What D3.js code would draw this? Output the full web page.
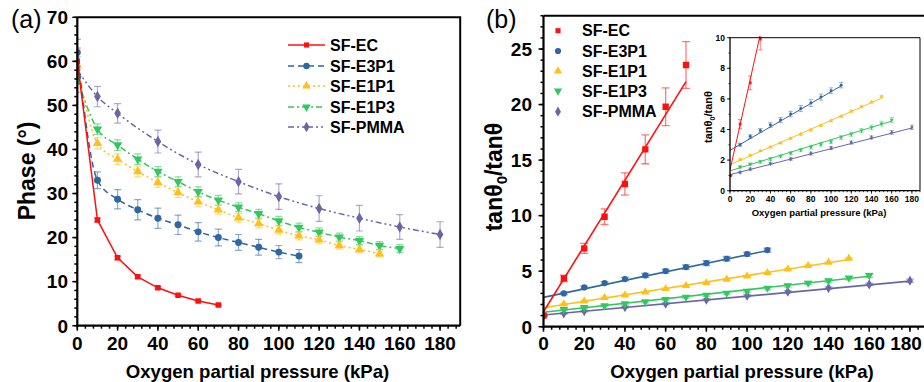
<!DOCTYPE html>
<html><head><meta charset="utf-8">
<script src="https://cdn.jsdelivr.net/npm/d3@7/dist/d3.min.js"></script>
<style>
html,body{margin:0;padding:0;background:#fff;}
svg{display:block;font-family:"Liberation Sans",Arial,sans-serif;}
</style></head>
<body>
<svg id="chart" width="924" height="382"></svg>
<script>
// ---------- DATA ----------
const seriesNames = ["SF-EC","SF-E3P1","SF-E1P1","SF-E1P3","SF-PMMA"];
const seriesColors = ["#ff1010","#2f66a3","#ffc01a","#33c75e","#6a66a6"];

const xEC    = [0,10,20,30,40,50,60,70];
const xE3P1  = [0,10,20,30,40,50,60,70,80,90,100,110];
const xE1P1  = [0,10,20,30,40,50,60,70,80,90,100,110,120,130,140,150];
const xE1P3  = [0,10,20,30,40,50,60,70,80,90,100,110,120,130,140,150,160];
const xPMMA  = [0,10,20,40,60,80,100,120,140,160,180];

// Panel (a): phase (deg)
const phaseEC    = [60,24.0,15.4,11.1,8.6,6.9,5.6,4.7];
const phaseEC_err= [3,0.4,0.4,0.3,0.3,0.2,0.2,0.2];
const phaseE3P1  = [62,33.0,28.7,26.3,24.4,22.9,21.3,20.0,18.9,17.8,16.7,15.8];
const phaseE3P1_err=[3,1.9,2.2,2.3,2.3,2.2,2.1,1.9,1.8,1.8,1.5,1.5];
const phaseE1P1  = [59,41.4,37.8,35.0,32.5,30.2,28.1,26.3,24.5,23.2,21.7,20.4,19.5,18.2,17.3,16.3];
const phaseE1P1_err=[3,1.3,1.2,1.2,1.1,1.1,1.1,1.0,1.0,1.0,0.9,0.9,0.9,0.8,0.8,0.7];
const phaseE1P3  = [56,44.6,41.0,37.8,35.0,32.7,30.4,28.5,26.9,25.4,23.8,22.3,21.2,20.1,19.3,18.2,17.5];
const phaseE1P3_err=[3,1.2,1.2,1.2,1.1,1.1,1.1,1.1,1.0,1.0,1.0,1.0,1.0,0.9,0.9,0.9,0.9];
const phasePMMA  = [58,52.0,48.2,41.8,36.6,32.7,29.3,26.6,24.4,22.4,20.7];
const phasePMMA_err=[3,2.3,2.2,2.6,2.8,2.8,2.9,2.9,2.9,2.8,2.9];

// Panel (b): tan(theta0)/tan(theta)
const ratioEC    = [1,4.35,7.05,9.9,12.85,15.97,19.8,23.56];
const ratioEC_err= [0.05,0.3,0.45,0.7,1.0,1.3,1.7,2.1];
const ratioE3P1  = [1,3.0,3.54,3.93,4.29,4.62,5.01,5.37,5.73,6.12,6.54,6.9];
const ratioE3P1_err=[0.05,0.1,0.12,0.13,0.15,0.17,0.18,0.2,0.22,0.2,0.18,0.18];
const ratioE1P1  = [1,2.04,2.31,2.61,2.85,3.12,3.42,3.69,3.96,4.26,4.56,4.86,5.19,5.49,5.79,6.15];
const ratioE1P1_err=[0.03,0.05,0.05,0.05,0.05,0.05,0.06,0.06,0.06,0.06,0.06,0.06,0.06,0.07,0.07,0.07];
const ratioE1P3  = [1,1.56,1.74,1.89,2.07,2.25,2.46,2.67,2.85,3.03,3.21,3.48,3.69,3.93,4.14,4.38,4.62];
const ratioE1P3_err=[0.03,0.08,0.08,0.09,0.1,0.1,0.1,0.1,0.12,0.12,0.12,0.13,0.13,0.14,0.15,0.16,0.17];
const ratioPMMA  = [1,1.2,1.41,1.77,2.07,2.43,2.79,3.15,3.48,3.81,4.14];
const ratioPMMA_err=[0.03,0.06,0.07,0.08,0.08,0.09,0.1,0.1,0.1,0.12,0.14];

// Linear fits (Stern-Volmer)
const fitIntercept = [1.35,2.64,1.70,1.30,1.05];
const fitSlope     = [0.296,0.0383,0.029,0.0203,0.01694];
const fitXmax      = [70,110,150,160,180];

// Tick labels
const xTicks = [0,20,40,60,80,100,120,140,160,180];
const phaseTicks = [0,10,20,30,40,50,60,70];
const ratioTicks = [0,5,10,15,20,25];
const insetYTicks = [0,2,4,6,8,10];

// ---------- BUILD ----------
const xs = [xEC,xE3P1,xE1P1,xE1P3,xPMMA];
const phases = [phaseEC,phaseE3P1,phaseE1P1,phaseE1P3,phasePMMA];
const phaseErrs = [phaseEC_err,phaseE3P1_err,phaseE1P1_err,phaseE1P3_err,phasePMMA_err];
const ratios = [ratioEC,ratioE3P1,ratioE1P1,ratioE1P3,ratioPMMA];
const ratioErrs = [ratioEC_err,ratioE3P1_err,ratioE1P1_err,ratioE1P3_err,ratioPMMA_err];
const dashes = [null,"6,4","2,3","6,3,2,3","6,3,2,3,2,3"];
const symbols = [d3.symbolSquare,d3.symbolCircle,d3.symbolTriangle,d3.symbolTriangle,d3.symbolDiamond];
const rotations = [0,0,0,180,0];

const svg = d3.select("#chart");
const FONT = "Liberation Sans, Arial, sans-serif";

function sym(i,size){ return d3.symbol().type(symbols[i]).size(size)(); }

function drawAxes(g, x, y, opts){
  const [x0,x1] = x.range(); const [y0,y1] = y.range();
  const xmin = d3.range(0, x.domain()[1]+0.001, opts.xMinor);
  g.selectAll(null).data(xmin).enter().append("line")
    .attr("x1",d=>x(d)).attr("x2",d=>x(d)).attr("y1",y0).attr("y2",y0+opts.minorLen)
    .attr("stroke","#000").attr("stroke-width",opts.tickW);
  g.selectAll(null).data(opts.xTicks).enter().append("line")
    .attr("x1",d=>x(d)).attr("x2",d=>x(d)).attr("y1",y0).attr("y2",y0+opts.majorLen)
    .attr("stroke","#000").attr("stroke-width",opts.tickW);
  const ymin = d3.range(0, y.domain()[1]+0.001, opts.yMinor);
  g.selectAll(null).data(ymin).enter().append("line")
    .attr("y1",d=>y(d)).attr("y2",d=>y(d)).attr("x1",x0).attr("x2",x0-opts.minorLen)
    .attr("stroke","#000").attr("stroke-width",opts.tickW);
  g.selectAll(null).data(opts.yTicks).enter().append("line")
    .attr("y1",d=>y(d)).attr("y2",d=>y(d)).attr("x1",x0).attr("x2",x0-opts.majorLen)
    .attr("stroke","#000").attr("stroke-width",opts.tickW);
  g.append("path").attr("d",`M${x0},${y1}L${x1},${y1}` + (opts.rightBorder?`L${x1},${y0}`:""))
    .attr("fill","none").attr("stroke","#000").attr("stroke-width",opts.frameW);
  g.append("line").attr("x1",x0).attr("x2",x1).attr("y1",y0).attr("y2",y0)
    .attr("stroke","#000").attr("stroke-width",opts.axisW);
  g.append("line").attr("x1",x0).attr("x2",x0).attr("y1",y0+opts.axisW/2).attr("y2",y1)
    .attr("stroke","#000").attr("stroke-width",opts.axisW);
  g.selectAll(null).data(opts.xTicks).enter().append("text")
    .attr("x",d=>Math.min(x(d), opts.maxLabelX || 1e9)).attr("y",opts.xLabelY).attr("text-anchor","middle")
    .attr("font-size",opts.fs).attr("font-weight",opts.fw).attr("font-family",FONT).text(d=>d);
  g.selectAll(null).data(opts.yTicks).enter().append("text")
    .attr("x",opts.yLabelX).attr("y",d=>y(d)).attr("dy","0.36em").attr("text-anchor","end")
    .attr("font-size",opts.fs).attr("font-weight",opts.fw).attr("font-family",FONT).text(d=>d);
}

function errorBars(g, x, y, xv, yv, ev, color, cap, w){
  const gg = g.append("g").attr("stroke",color).attr("stroke-opacity",0.55).attr("stroke-width",w).attr("fill","none");
  xv.forEach((xx,k)=>{
    const yt = y(yv[k]+ev[k]), yb = y(yv[k]-ev[k]), cx = x(xx);
    gg.append("line").attr("x1",cx).attr("x2",cx).attr("y1",yt).attr("y2",yb);
    gg.append("line").attr("x1",cx-cap).attr("x2",cx+cap).attr("y1",yt).attr("y2",yt);
    gg.append("line").attr("x1",cx-cap).attr("x2",cx+cap).attr("y1",yb).attr("y2",yb);
  });
}

// ===== Panel (a) =====
{
  const x = d3.scaleLinear().domain([0,190]).range([77.3,460.2]);
  const y = d3.scaleLinear().domain([0,70]).range([325.7,17.3]);
  const g = svg.append("g");
  svg.append("defs").append("clipPath").attr("id","clipA").append("rect")
    .attr("x",77.3).attr("y",17.3).attr("width",383).attr("height",308.4);
  const pg = g.append("g").attr("clip-path","url(#clipA)");
  for(let i=4;i>=0;i--){
    errorBars(pg,x,y,xs[i],phases[i],phaseErrs[i],seriesColors[i],3.5,1.2);
  }
  for(let i=4;i>=0;i--){
    const line = d3.line().x(d=>x(d[0])).y(d=>y(d[1]))
      .curve(i===0?d3.curveLinear:d3.curveMonotoneX);
    pg.append("path").datum(xs[i].map((xx,k)=>[xx,phases[i][k]]))
      .attr("d",line).attr("fill","none").attr("stroke",seriesColors[i])
      .attr("stroke-width",1.5).attr("stroke-dasharray",dashes[i]);
    pg.selectAll(null).data(xs[i].map((xx,k)=>[xx,phases[i][k]])).enter().append("path")
      .attr("d",sym(i,i===0?30:38))
      .attr("transform",d=>`translate(${x(d[0])},${y(d[1])}) rotate(${rotations[i]})`)
      .attr("fill",seriesColors[i]);
  }
  drawAxes(g,x,y,{xTicks:xTicks,yTicks:phaseTicks,xMinor:4,yMinor:2,minorLen:3,majorLen:5,
    tickW:1.5,frameW:2,axisW:2.2,rightBorder:true,xLabelY:350,yLabelX:68,fs:19,fw:"bold"});
  const lg = g.append("g");
  const rows = [45,66,86,107,127];
  seriesNames.forEach((n,i)=>{
    lg.append("line").attr("x1",288).attr("x2",325).attr("y1",rows[i]).attr("y2",rows[i])
      .attr("stroke",seriesColors[i]).attr("stroke-width",1.5).attr("stroke-dasharray",dashes[i]);
    lg.append("path").attr("d",sym(i,i===0?26:32))
      .attr("transform",`translate(306.5,${rows[i]}) rotate(${rotations[i]})`).attr("fill",seriesColors[i]);
    lg.append("text").attr("x",330).attr("y",rows[i]).attr("dy","0.36em")
      .attr("font-size",16).attr("font-weight","bold").attr("font-family",FONT).text(n);
  });
  g.append("text").attr("x",11).attr("y",28).attr("font-size",25).attr("font-family",FONT).text("(a)");
  g.append("text").attr("transform","translate(35,171) rotate(-90)").attr("text-anchor","middle")
    .attr("font-size",23).attr("font-weight","bold").attr("font-family",FONT).text("Phase (°)");
  g.append("text").attr("x",257.5).attr("y",378).attr("text-anchor","middle")
    .attr("font-size",18.6).attr("font-weight","bold").attr("font-family",FONT).text("Oxygen partial pressure (kPa)");
}

// ===== Panel (b) =====
{
  const x = d3.scaleLinear().domain([0,190]).range([543.5,930.3]);
  const y = d3.scaleLinear().domain([0,28]).range([326.7,15.7]);
  const g = svg.append("g");
  svg.select("defs").append("clipPath").attr("id","clipB").append("rect")
    .attr("x",543.5).attr("y",15.7).attr("width",400).attr("height",311);
  const pg = g.append("g").attr("clip-path","url(#clipB)");
  for(let i=4;i>=0;i--){
    pg.append("line").attr("x1",x(0)).attr("x2",x(fitXmax[i]))
      .attr("y1",y(fitIntercept[i])).attr("y2",y(fitIntercept[i]+fitSlope[i]*fitXmax[i]))
      .attr("stroke",seriesColors[i]).attr("stroke-width",1.6);
    errorBars(pg,x,y,xs[i],ratios[i],ratioErrs[i],seriesColors[i],4,1.3);
    pg.selectAll(null).data(xs[i].map((xx,k)=>[xx,ratios[i][k]])).enter().append("path")
      .attr("d",sym(i,i===0?40:30))
      .attr("transform",d=>`translate(${x(d[0])},${y(d[1])}) rotate(${rotations[i]})`)
      .attr("fill",seriesColors[i]);
  }
  drawAxes(g,x,y,{xTicks:xTicks,yTicks:ratioTicks,xMinor:4,yMinor:1,minorLen:3,majorLen:5,
    tickW:1.5,frameW:2,axisW:2.2,rightBorder:false,xLabelY:350,yLabelX:532,fs:19,fw:"bold",maxLabelX:906});
  const rows = [30.7,51,71,91,111.7];
  seriesNames.forEach((n,i)=>{
    g.append("path").attr("d",sym(i,i===0?26:30))
      .attr("transform",`translate(558,${rows[i]}) rotate(${rotations[i]})`).attr("fill",seriesColors[i]);
    g.append("text").attr("x",582).attr("y",rows[i]).attr("dy","0.36em")
      .attr("font-size",16).attr("font-weight","bold").attr("font-family",FONT).text(n);
  });
  g.append("text").attr("x",486).attr("y",28).attr("font-size",25).attr("font-family",FONT).text("(b)");
  const yt = g.append("text").attr("transform","translate(502,177) rotate(-90)").attr("text-anchor","middle")
    .attr("font-size",23).attr("font-weight","bold").attr("font-family",FONT);
  yt.append("tspan").text("tanθ");
  yt.append("tspan").attr("font-size",15).attr("dy",5).text("0");
  yt.append("tspan").attr("dy",-5).text("/tanθ");
  g.append("text").attr("x",742).attr("y",378).attr("text-anchor","middle")
    .attr("font-size",18.6).attr("font-weight","bold").attr("font-family",FONT).text("Oxygen partial pressure (kPa)");

  // ----- Inset -----
  const xi = d3.scaleLinear().domain([0,188]).range([730,920]);
  const yi = d3.scaleLinear().domain([0,10]).range([190.7,37.7]);
  const ig = svg.append("g");
  ig.append("rect").attr("x",730).attr("y",37.7).attr("width",190).attr("height",153).attr("fill","#fff");
  svg.select("defs").append("clipPath").attr("id","clipI").append("rect")
    .attr("x",730).attr("y",36).attr("width",190).attr("height",154.7);
  const ip = ig.append("g").attr("clip-path","url(#clipI)");
  for(let i=4;i>=0;i--){
    ip.append("line").attr("x1",xi(0)).attr("x2",xi(fitXmax[i]))
      .attr("y1",yi(fitIntercept[i])).attr("y2",yi(fitIntercept[i]+fitSlope[i]*fitXmax[i]))
      .attr("stroke",seriesColors[i]).attr("stroke-width",1);
    errorBars(ip,xi,yi,xs[i],ratios[i],ratioErrs[i],seriesColors[i],2.2,0.9);
    ip.selectAll(null).data(xs[i].map((xx,k)=>[xx,ratios[i][k]]).filter(d=>d[1]<=10.2)).enter().append("path")
      .attr("d",sym(i,7))
      .attr("transform",d=>`translate(${xi(d[0])},${yi(d[1])}) rotate(${rotations[i]})`)
      .attr("fill",seriesColors[i]);
  }
  drawAxes(ig,xi,yi,{xTicks:xTicks,yTicks:insetYTicks,xMinor:4,yMinor:1,minorLen:1.5,majorLen:3,
    tickW:0.8,frameW:1,axisW:1.3,rightBorder:true,xLabelY:201.5,yLabelX:725,fs:8.5,fw:"bold"});
  const it = ig.append("text").attr("transform","translate(712,117) rotate(-90)").attr("text-anchor","middle")
    .attr("font-size",11).attr("font-weight","bold").attr("font-family",FONT);
  it.append("tspan").text("tanθ");
  it.append("tspan").attr("font-size",7).attr("dy",2.5).text("0");
  it.append("tspan").attr("dy",-2.5).text("/tanθ");
  ig.append("text").attr("x",819).attr("y",216).attr("text-anchor","middle")
    .attr("font-size",9.5).attr("font-weight","bold").attr("font-family",FONT).text("Oxygen partial pressure (kPa)");
}
</script>
</body></html>
